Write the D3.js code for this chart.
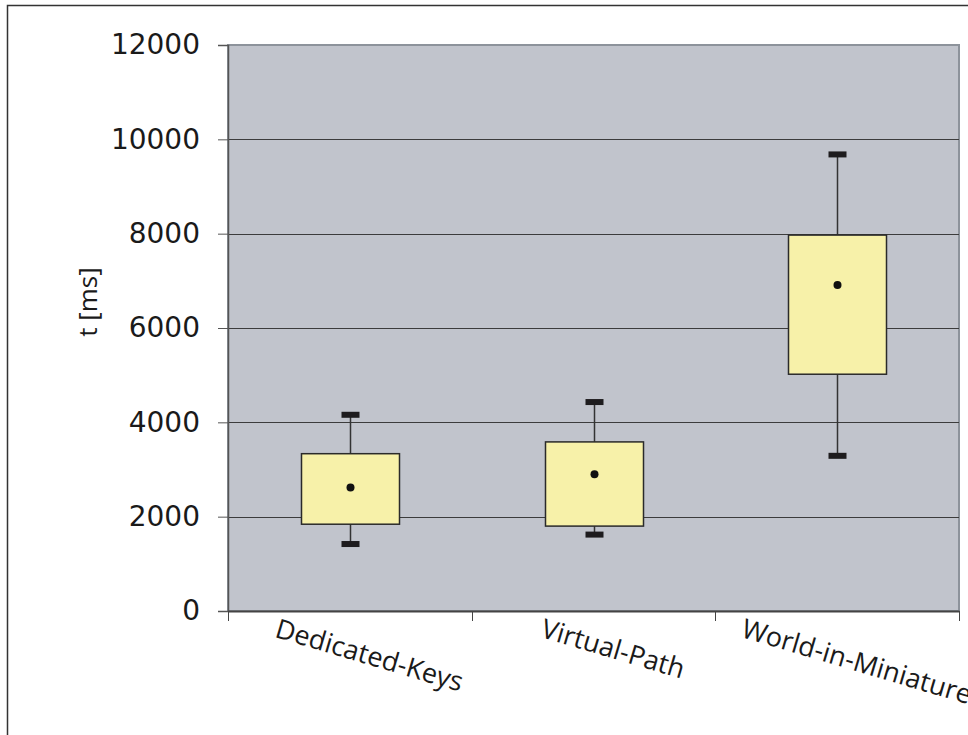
<!DOCTYPE html>
<html>
<head>
<meta charset="utf-8">
<script src="https://cdn.jsdelivr.net/npm/d3@7"></script>
<style>
  html, body { margin: 0; padding: 0; background: #fff; }
  svg { display: block; }
</style>
</head>
<body>
<svg id="chart" width="968" height="735"></svg>
<script>
// Task completion time per navigation technique
const categories = ["Dedicated-Keys", "Virtual-Path", "World-in-Miniature"];
const lowerWhisker = [1420, 1620, 3290];
const boxBottom    = [1840, 1800, 5020];
const meanValue    = [2620, 2900, 6910];
const boxTop       = [3335, 3585, 7970];
const upperWhisker = [4160, 4430, 9680];
const yTicks = [0, 2000, 4000, 6000, 8000, 10000, 12000];

const svg = d3.select("#chart");
const plotLeft = 228, plotRight = 959, plotTop = 45, plotBottom = 611;

// outer frame
svg.append("rect")
  .attr("x", 7.5).attr("y", 5.5)
  .attr("width", 980).attr("height", 760)
  .attr("fill", "none").attr("stroke", "#333").attr("stroke-width", 1.5);

const x = d3.scaleBand().domain(categories).range([plotLeft, plotRight]);
const y = d3.scaleLinear().domain([0, 12000]).range([plotBottom, plotTop]);

// plot background
svg.append("rect")
  .attr("x", plotLeft).attr("y", plotTop)
  .attr("width", plotRight - plotLeft).attr("height", plotBottom - plotTop)
  .attr("fill", "#c1c4cc")
  .attr("stroke", "#8d939b").attr("stroke-width", 2);

// gridlines
svg.append("g")
  .selectAll("line")
  .data(yTicks.filter(t => t > 0 && t < 12000))
  .join("line")
  .attr("x1", plotLeft).attr("x2", plotRight)
  .attr("y1", d => Math.round(y(d)) + 0.5).attr("y2", d => Math.round(y(d)) + 0.5)
  .attr("stroke", "#3c3c3c").attr("stroke-width", 1);

// y axis
const yAxis = svg.append("g")
  .attr("transform", `translate(${plotLeft},0)`)
  .call(d3.axisLeft(y).tickValues(yTicks).tickSize(10).tickPadding(18).tickFormat(d3.format("d")));
yAxis.select(".domain").attr("stroke", "#555").attr("stroke-width", 1.5);
yAxis.selectAll(".tick line").attr("stroke", "#555");
yAxis.selectAll(".tick text")
  .attr("font-family", "DejaVu Sans, Verdana, sans-serif")
  .attr("font-size", 28).attr("fill", "#1a1a1a");

// x axis
const xAxis = svg.append("g")
  .attr("transform", `translate(0,${plotBottom})`)
  .call(d3.axisBottom(x).tickSize(0).tickFormat(""));
xAxis.select(".domain").attr("stroke", "#444").attr("stroke-width", 2);

svg.append("g")
  .selectAll("line")
  .data([plotLeft, plotLeft + x.bandwidth(), plotLeft + 2 * x.bandwidth(), plotRight])
  .join("line")
  .attr("x1", d => Math.round(d) + 0.5).attr("x2", d => Math.round(d) + 0.5)
  .attr("y1", plotBottom).attr("y2", plotBottom + 10)
  .attr("stroke", "#444").attr("stroke-width", 1);

// category labels, rotated and centred under each category
const labelSize = 27, angle = 16.5, rad = angle * Math.PI / 180;
const ascent = 0.72 * labelSize, labelTop = 618;
svg.append("g")
  .selectAll("text")
  .data(categories)
  .join("text")
  .attr("font-family", "Open Sans, Lato, sans-serif")
  .attr("font-size", labelSize).attr("fill", "#1a1a1a")
  .text(d => d)
  .each(function (d) {
    const len = this.getComputedTextLength();
    const cx = x(d) + x.bandwidth() / 2 + 17;
    const sx = cx - len * Math.cos(rad) / 2;
    const sy = labelTop + ascent * Math.cos(rad);
    d3.select(this).attr("transform", `translate(${sx},${sy}) rotate(${angle})`);
  });

// y axis title
svg.append("text")
  .attr("transform", `translate(97,302) rotate(-90)`)
  .attr("text-anchor", "middle")
  .attr("font-family", "Open Sans, Lato, sans-serif")
  .attr("font-size", 26).attr("fill", "#1a1a1a")
  .text("t [ms]");

// box plots
const boxW = 98, capW = 18, capH = 6;
const g = svg.append("g");
categories.forEach((c, i) => {
  const cx = Math.round(x(c) + x.bandwidth() / 2) + 0.5;
  g.append("line")
    .attr("x1", cx).attr("x2", cx)
    .attr("y1", y(upperWhisker[i])).attr("y2", y(boxTop[i]))
    .attr("stroke", "#333").attr("stroke-width", 1.5);
  g.append("line")
    .attr("x1", cx).attr("x2", cx)
    .attr("y1", y(boxBottom[i])).attr("y2", y(lowerWhisker[i]))
    .attr("stroke", "#333").attr("stroke-width", 1.5);
  g.append("rect")
    .attr("x", cx - boxW / 2).attr("y", y(boxTop[i]))
    .attr("width", boxW).attr("height", y(boxBottom[i]) - y(boxTop[i]))
    .attr("fill", "#f7f1a9").attr("stroke", "#2a2a2a").attr("stroke-width", 1.5);
  [upperWhisker[i], lowerWhisker[i]].forEach(v => {
    g.append("rect")
      .attr("x", cx - capW / 2).attr("y", y(v) - capH / 2)
      .attr("width", capW).attr("height", capH)
      .attr("fill", "#1e1c1e");
  });
  g.append("circle")
    .attr("cx", cx).attr("cy", y(meanValue[i]))
    .attr("r", 4).attr("fill", "#111");
});
</script>
</body>
</html>
